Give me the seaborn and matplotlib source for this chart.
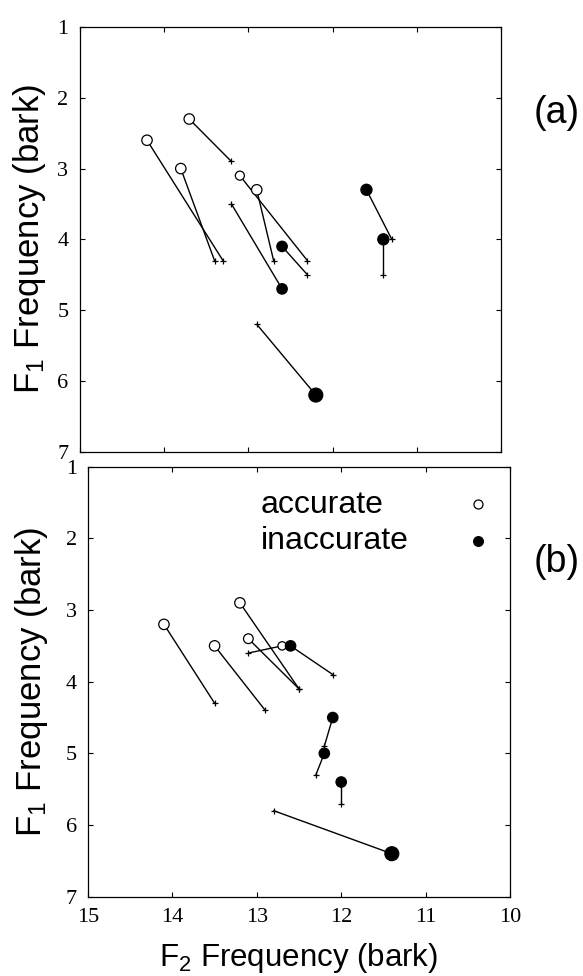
import matplotlib
matplotlib.use("Agg")
import matplotlib.pyplot as plt
import pandas as pd
import seaborn as sns

sns.set_theme(style="white")
plt.rcParams["font.family"] = ["Liberation Sans", "DejaVu Sans"]
plt.rcParams["mathtext.default"] = "regular"

# Panel (a): target vowel (circle) and produced endpoint (+), in bark
a_target_f2 = [13.7, 14.2, 13.8, 13.1, 12.9, 12.6, 12.6, 11.6, 11.4, 12.2]
a_target_f1 = [2.3, 2.6, 3.0, 3.1, 3.3, 4.1, 4.7, 3.3, 4.0, 6.2]
a_end_f2 = [13.2, 13.3, 13.4, 12.3, 12.7, 12.3, 13.2, 11.3, 11.4, 12.9]
a_end_f1 = [2.9, 4.3, 4.3, 4.3, 4.3, 4.5, 3.5, 4.0, 4.5, 5.2]
a_accurate = [True, True, True, True, True, False, False, False, False, False]
a_marker_pt = [7.5, 7.5, 7.5, 6.5, 7.5, 7.5, 7.5, 8.0, 8.0, 10.0]

# Panel (b)
b_target_f2 = [13.2, 14.1, 13.1, 13.5, 12.7, 12.6, 12.1, 12.2, 12.0, 11.4]
b_target_f1 = [2.9, 3.2, 3.4, 3.5, 3.5, 3.5, 4.5, 5.0, 5.4, 6.4]
b_end_f2 = [12.5, 13.5, 12.5, 12.9, 13.1, 12.1, 12.2, 12.3, 12.0, 12.8]
b_end_f1 = [4.1, 4.3, 4.1, 4.4, 3.6, 3.9, 4.9, 5.3, 5.7, 5.8]
b_accurate = [True, True, True, True, True, False, False, False, False, False]
b_marker_pt = [7.5, 7.5, 7.0, 7.5, 6.0, 7.5, 7.5, 7.5, 7.5, 10.0]

f2_ticks = [15, 14, 13, 12, 11, 10]
f1_ticks = [1, 2, 3, 4, 5, 6, 7]
legend_labels = ["accurate", "inaccurate"]
panel_tags = ["(a)", "(b)"]

W, H = 583, 976
fig = plt.figure(figsize=(W / 100, H / 100), dpi=100)
ax_a = fig.add_axes([79.5 / W, 1 - 451.7 / H, 422 / W, 424.7 / H])
ax_b = fig.add_axes([88 / W, 1 - 896.7 / H, 422 / W, 430 / H])


def draw_panel(ax, t_f2, t_f1, e_f2, e_f1, accurate, sizes):
    n = len(t_f2)
    segs = pd.DataFrame({
        "pair": list(range(n)) * 2,
        "f2": list(t_f2) + list(e_f2),
        "f1": list(t_f1) + list(e_f1),
    })
    sns.lineplot(data=segs, x="f2", y="f1", units="pair", estimator=None,
                 sort=False, color="black", lw=1.0, ax=ax, zorder=2)
    ends = pd.DataFrame({"f2": e_f2, "f1": e_f1})
    sns.scatterplot(data=ends, x="f2", y="f1", marker="+", s=16,
                    color="black", linewidth=0.9, ax=ax, zorder=3)
    pts = pd.DataFrame({"f2": t_f2, "f1": t_f1, "accurate": accurate,
                        "area": [s ** 2 for s in sizes]})
    for flag, face in [(True, "white"), (False, "black")]:
        sub = pts[pts["accurate"] == flag]
        sns.scatterplot(data=sub, x="f2", y="f1", s=sub["area"].tolist(),
                        facecolor=face, edgecolor="black", linewidth=0.9,
                        ax=ax, zorder=4)

    ax.set_xlim(15, 10)
    ax.set_ylim(7, 1)
    ax.set_xticks(f2_ticks)
    ax.set_yticks(f1_ticks)
    ax.set_xticklabels([str(t) for t in f2_ticks])
    ax.set_yticklabels([str(t) for t in f1_ticks])
    ax.tick_params(direction="in", top=True, right=True, bottom=True, left=True,
                   length=3.5, width=0.8, color="black", labelsize=16,
                   pad=8, labelfontfamily="Liberation Serif",
                   labelcolor="black")
    for sp in ax.spines.values():
        sp.set_visible(True)
        sp.set_color("black")
        sp.set_linewidth(0.9)
    ax.set_xlabel("")
    ax.set_ylabel("F$_1$ Frequency (bark)", fontsize=25, color="black",
                  va="center")


draw_panel(ax_a, a_target_f2, a_target_f1, a_end_f2, a_end_f1, a_accurate, a_marker_pt)
draw_panel(ax_b, b_target_f2, b_target_f1, b_end_f2, b_end_f1, b_accurate, b_marker_pt)

ax_a.tick_params(labelbottom=False)
ax_a.yaxis.set_label_coords((29.5 - 79.5) / 422, 0.5)
ax_b.yaxis.set_label_coords((31 - 88) / 422, 0.5)

ax_b.set_xlabel("F$_2$ Frequency (bark)", fontsize=22.5, color="black", va="top")
ax_b.xaxis.set_label_coords(0.5, -0.104)

# Key for open / filled circles
ax_b.text(0.41, 0.892, legend_labels[0], transform=ax_b.transAxes,
          fontsize=23, ha="left", va="baseline", color="black")
ax_b.text(0.41, 0.809, legend_labels[1], transform=ax_b.transAxes,
          fontsize=23, ha="left", va="baseline", color="black")
ax_b.plot([0.924], [0.913], "o", mfc="white", mec="black", mew=0.9, ms=6.5,
          transform=ax_b.transAxes, clip_on=False)
ax_b.plot([0.924], [0.827], "o", mfc="black", mec="black", mew=0.9, ms=7,
          transform=ax_b.transAxes, clip_on=False)

fig.text(557 / W, 1 - 113 / H, panel_tags[0], fontsize=27, ha="center",
         va="center", color="black")
fig.text(557 / W, 1 - 562 / H, panel_tags[1], fontsize=27, ha="center",
         va="center", color="black")

fig.savefig("out.png", dpi=100, facecolor="white")
